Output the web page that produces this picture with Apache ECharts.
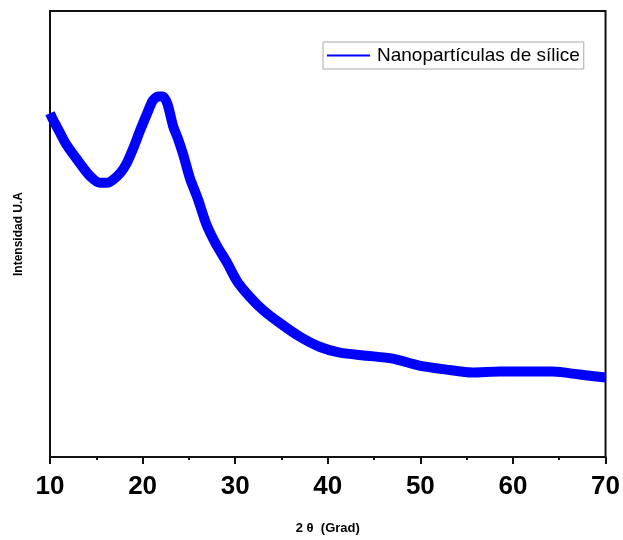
<!DOCTYPE html>
<html><head><meta charset="utf-8">
<script src="https://cdn.jsdelivr.net/npm/echarts@6/dist/echarts.min.js"></script>
<style>html,body{margin:0;padding:0;background:#fff}#c{width:623px;height:540px}</style>
</head><body><div id="c"></div>
<script>
// 2θ (degrees)
const twoTheta = [10,10.3,11.1,11.8,13.2,14.3,15.4,16.2,16.8,17.6,18.3,19.0,19.7,20.5,21.1,21.7,22.2,22.7,23.3,23.8,24.4,25.1,26.0,26.9,28.0,29.1,30.2,31.6,33.0,34.8,37.0,39.1,41.3,44.2,47.0,49.9,52.8,55.6,58.6,61.5,64.3,67.2,70];
// intensity (arbitrary units)
const intensity = [346,340,326,314,296,283,276,276,279,286,296,311,328,346,359,363,363,355,333,321,304,281,259,234,213,196,177,161,148,135,121,111,105,102,99,92,88,85,86,86,86,83,80];
const xTicks = [10,20,30,40,50,60,70];
const seriesName = 'Nanopartículas de sílice';

const chart = echarts.init(document.getElementById('c'));
chart.setOption({
  animation:false,
  backgroundColor:'#fff',
  grid:{left:50,right:17,top:11,bottom:81,show:true,borderColor:'#111',borderWidth:2},
  legend:{
    left:323, top:42, padding:[4,4,4,4], borderColor:'#aaa', borderWidth:1,
    itemWidth:43, itemHeight:2, icon:'rect', itemGap:0,
    textStyle:{fontFamily:'Liberation Sans',fontSize:19,color:'#000',padding:[0,0,0,2]},
    data:[seriesName]
  },
  xAxis:{
    type:'value', min:xTicks[0], max:xTicks[xTicks.length-1], interval:10,
    name:'2 θ  (Grad)', nameLocation:'middle', nameGap:65,
    nameTextStyle:{fontFamily:'Liberation Sans',fontWeight:'bold',fontSize:13,color:'#000'},
    axisLine:{lineStyle:{color:'#111',width:2}},
    axisTick:{inside:false,length:7,lineStyle:{color:'#111',width:2}},
    minorTick:{show:true,splitNumber:2,length:3,lineStyle:{color:'#111',width:2}},
    axisLabel:{fontFamily:'Liberation Sans',fontWeight:'bold',fontSize:26,color:'#000',margin:17},
    splitLine:{show:false}
  },
  yAxis:{
    type:'value', min:0, max:449,
    name:'Intensidad U.A', nameLocation:'middle', nameGap:25,
    nameTextStyle:{fontFamily:'Liberation Sans',fontWeight:'bold',fontSize:12,color:'#000'},
    axisLine:{show:true,lineStyle:{color:'#111',width:2}},
    axisTick:{show:false}, axisLabel:{show:false}, splitLine:{show:false}
  },
  series:[{
    name:seriesName, type:'line', smooth:0.25, showSymbol:false,
    data:twoTheta.map((x,i)=>[x,intensity[i]]),
    lineStyle:{color:'#0000ff',width:10},
    itemStyle:{color:'#0000ff'}
  }]
});
</script></body></html>
